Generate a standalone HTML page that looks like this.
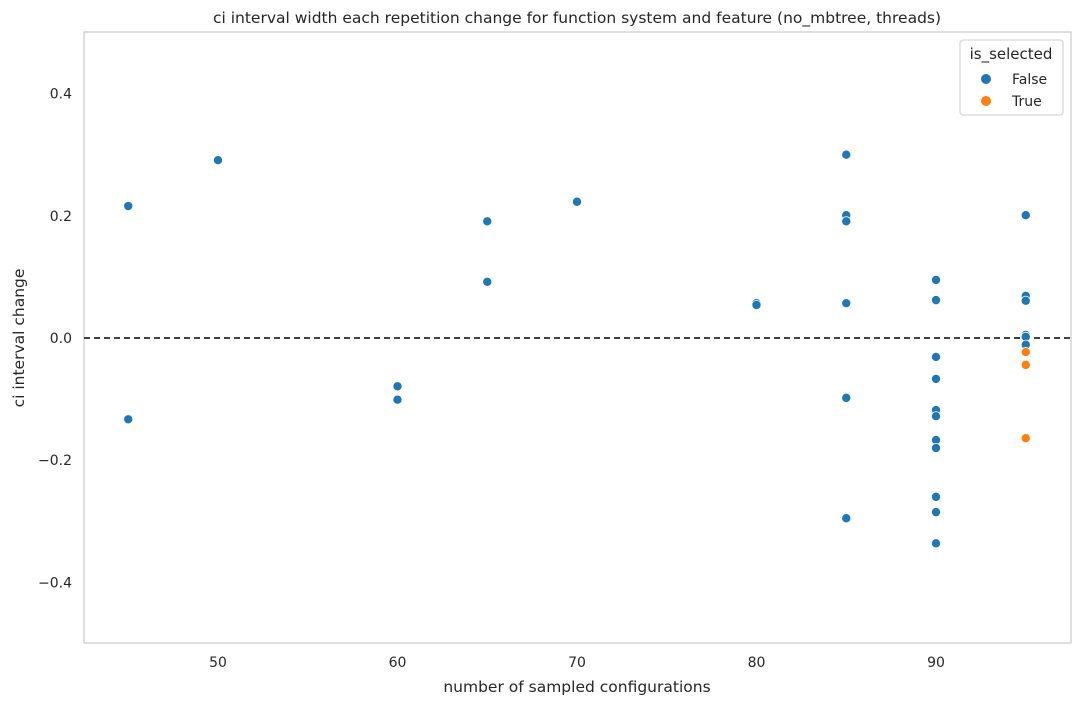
<!DOCTYPE html>
<html><head><meta charset="utf-8"><style>
body{margin:0;background:#fff;font-family:"Liberation Sans","DejaVu Sans",sans-serif;}
svg text{font-family:"DejaVu Sans","Liberation Sans",sans-serif;fill:#262626;}
</style></head><body>
<svg id="chart" width="1080" height="706" viewBox="0 0 1080 706">
<rect x="0" y="0" width="1080" height="706" fill="#fff"/>
<rect x="84" y="32" width="987" height="611" fill="#fff" stroke="#cccccc" stroke-width="1.25"/>
<text x="577" y="23" text-anchor="middle" font-size="15.5">ci interval width each repetition change for function system and feature (no_mbtree, threads)</text>
<text x="577" y="692" text-anchor="middle" font-size="15.5">number of sampled configurations</text>
<text transform="translate(24,338) rotate(-90)" text-anchor="middle" font-size="15.5">ci interval change</text>
<g id="xticks"></g><g id="yticks"></g>
<line x1="84" x2="1071" y1="338" y2="338" stroke="#000" stroke-width="1.6" stroke-dasharray="6,4"/>
<g id="points"></g>
<g>
<rect x="960" y="40" width="103" height="75" rx="3" fill="#fff" stroke="#cccccc"/>
<text x="1011" y="59" text-anchor="middle" font-size="15">is_selected</text>
<circle cx="986" cy="79" r="5" fill="#1f77b4"/>
<text x="1012" y="84" font-size="14">False</text>
<circle cx="986" cy="101" r="5" fill="#ff7f0e"/>
<text x="1012" y="106" font-size="14">True</text>
</g>
</svg>
<script>
const falseX=[45,45,50,60,60,65,65,70,80,80,85,85,85,85,85,85,90,90,90,90,90,90,90,90,90,90,90,95,95,95,95,95,95];
const falseY=[0.216,-0.133,0.291,-0.079,-0.101,0.191,0.092,0.223,0.057,0.054,0.300,0.201,0.191,0.057,-0.098,-0.295,0.095,0.062,-0.031,-0.067,-0.118,-0.128,-0.167,-0.180,-0.260,-0.285,-0.336,0.201,0.069,0.061,0.005,0.002,-0.011];
const trueX=[95,95,95];
const trueY=[-0.023,-0.044,-0.164];
const xTicks=[50,60,70,80,90];
const yTicks=[0.4,0.2,0.0,-0.2,-0.4];
const NS='http://www.w3.org/2000/svg';
const xs=v=>218+(v-50)*17.95;
const ys=v=>338-v*611;
const xg=document.getElementById('xticks'),yg=document.getElementById('yticks'),pg=document.getElementById('points');
xTicks.forEach(t=>{const e=document.createElementNS(NS,'text');


e.setAttribute('x',xs(t));e.setAttribute('y',667);e.setAttribute('text-anchor','middle');e.setAttribute('font-size','14');e.textContent=t;xg.appendChild(e);});
yTicks.forEach(t=>{const e=document.createElementNS(NS,'text');


e.setAttribute('x',72);e.setAttribute('y',ys(t)+5);e.setAttribute('text-anchor','end');e.setAttribute('font-size','14');e.textContent=t.toFixed(1).replace('-','\u2212');yg.appendChild(e);});
function dot(x,y,c,name){const e=document.createElementNS(NS,'circle');


e.setAttribute('cx',xs(x));e.setAttribute('cy',ys(y));e.setAttribute('r',4.6);e.setAttribute('fill',c);e.setAttribute('stroke','#fff');e.setAttribute('stroke-width','0.8');pg.appendChild(e);}
falseX.forEach((x,i)=>dot(x,falseY[i],'#1f77b4','point-false'));
trueX.forEach((x,i)=>dot(x,trueY[i],'#ff7f0e','point-true'));
</script>
</body></html>
